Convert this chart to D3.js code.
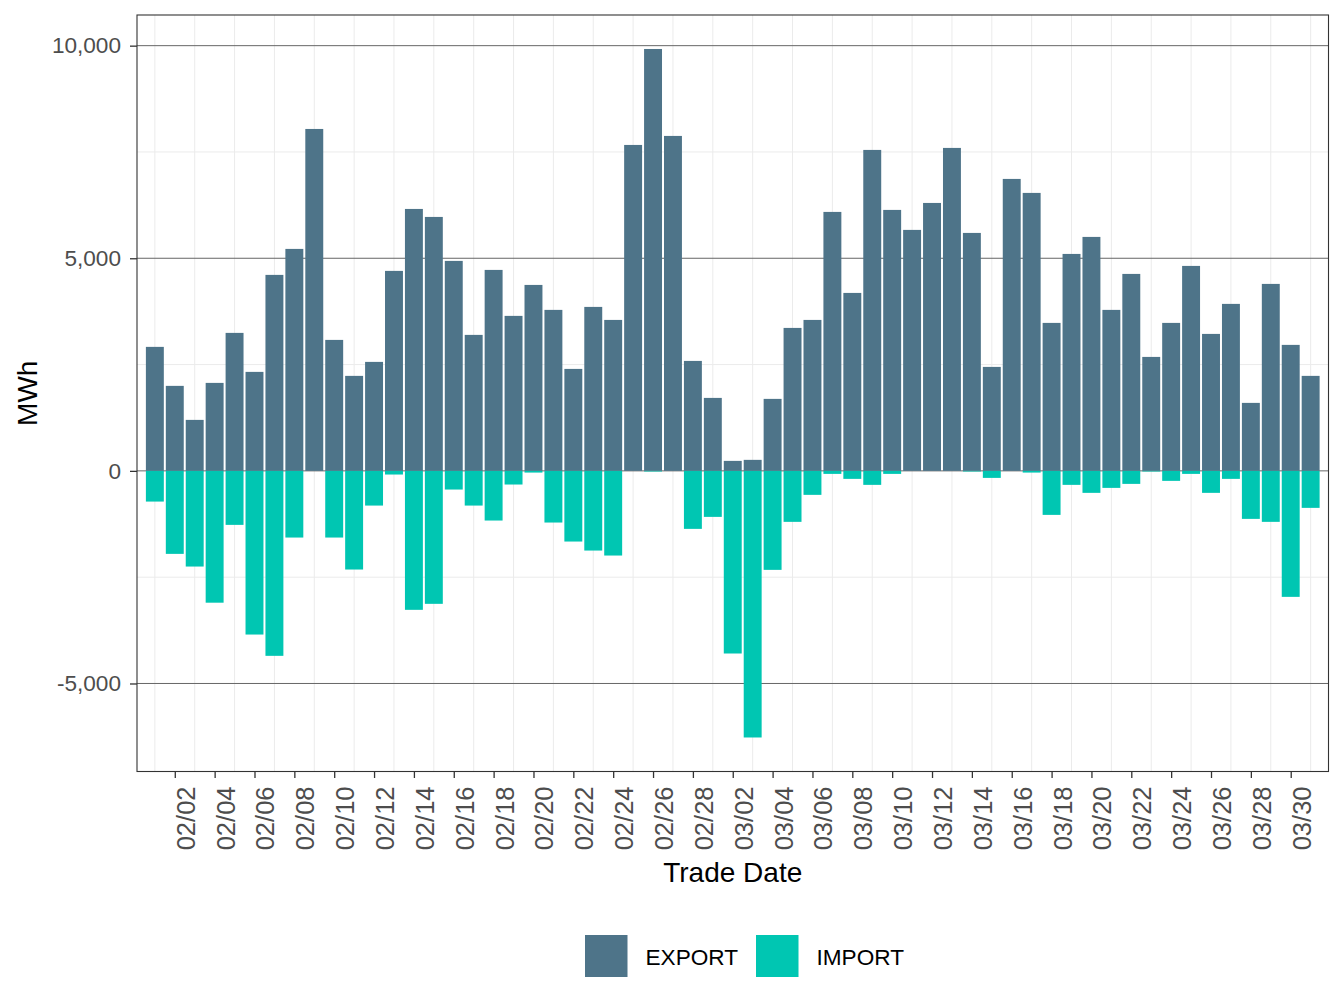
<!DOCTYPE html>
<html>
<head>
<meta charset="utf-8">
<script src="https://cdn.jsdelivr.net/npm/d3@7"></script>
<style>
  html, body { margin: 0; padding: 0; background: #ffffff; }
  svg { display: block; font-family: "Liberation Sans", Arial, Helvetica, sans-serif; }
</style>
</head>
<body>
<svg id="chart" width="1344" height="1008"></svg>
<script>
// ---- data ----
const dates = [
  "2023-02-01","2023-02-02","2023-02-03","2023-02-04","2023-02-05","2023-02-06","2023-02-07",
  "2023-02-08","2023-02-09","2023-02-10","2023-02-11","2023-02-12","2023-02-13","2023-02-14",
  "2023-02-15","2023-02-16","2023-02-17","2023-02-18","2023-02-19","2023-02-20","2023-02-21",
  "2023-02-22","2023-02-23","2023-02-24","2023-02-25","2023-02-26","2023-02-27","2023-02-28",
  "2023-03-01","2023-03-02","2023-03-03","2023-03-04","2023-03-05","2023-03-06","2023-03-07",
  "2023-03-08","2023-03-09","2023-03-10","2023-03-11","2023-03-12","2023-03-13","2023-03-14",
  "2023-03-15","2023-03-16","2023-03-17","2023-03-18","2023-03-19","2023-03-20","2023-03-21",
  "2023-03-22","2023-03-23","2023-03-24","2023-03-25","2023-03-26","2023-03-27","2023-03-28",
  "2023-03-29","2023-03-30","2023-03-31"
];
const exportMWh = [
  2916,1999,1199,2069,3245,2328,4609,5220,8041,3080,2234,2563,4703,6160,
  5972,4938,3198,4726,3645,4373,3786,2398,3856,3550,7665,9922,7877,2586,
  1716,235,259,1693,3362,3550,6090,4185,7548,6137,5667,6301,7595,5596,
  2445,6866,6537,3480,5102,5502,3786,4632,2680,3480,4820,3221,3927,1599,
  4397,2963,2234
];
const importMWh = [
  -722,-1952,-2250,-3100,-1270,-3849,-4350,-1568,0,-1568,-2320,-816,-86,-3268,
  -3127,-439,-816,-1168,-321,-40,-1215,-1662,-1874,-1991,0,-15,0,-1364,
  -1082,-4295,-6270,-2328,-1199,-564,-71,-188,-329,-71,0,0,0,-15,
  -165,0,-40,-1035,-329,-517,-400,-306,-15,-235,-71,-517,-188,-1129,
  -1199,-2963,-870
];
const seriesNames = ["EXPORT", "IMPORT"];
const seriesColors = ["#4e7489", "#00c6b2"];
const xTickDates = [
  "2023-02-02","2023-02-04","2023-02-06","2023-02-08","2023-02-10","2023-02-12","2023-02-14",
  "2023-02-16","2023-02-18","2023-02-20","2023-02-22","2023-02-24","2023-02-26","2023-02-28",
  "2023-03-02","2023-03-04","2023-03-06","2023-03-08","2023-03-10","2023-03-12","2023-03-14",
  "2023-03-16","2023-03-18","2023-03-20","2023-03-22","2023-03-24","2023-03-26","2023-03-28",
  "2023-03-30"
];
const xTickLabels = [
  "02/02","02/04","02/06","02/08","02/10","02/12","02/14","02/16","02/18","02/20","02/22",
  "02/24","02/26","02/28","03/02","03/04","03/06","03/08","03/10","03/12","03/14","03/16",
  "03/18","03/20","03/22","03/24","03/26","03/28","03/30"
];
const yMajorTicks = [-5000, 0, 5000, 10000];
const yMinorTicks = [-2500, 2500, 7500];
const yTickLabels = ["-5,000", "0", "5,000", "10,000"];

// ---- layout ----
const panel = { left: 137, right: 1328.5, top: 15, bottom: 771.5 };
const DAY = 86400000;
const parse = d3.utcParse("%Y-%m-%d");
const dateObjs = dates.map(parse);
const pad = 0.896 * DAY;

const x = d3.scaleUtc()
  .domain([new Date(+dateObjs[0] - pad), new Date(+dateObjs[dateObjs.length - 1] + pad)])
  .range([panel.left, panel.right]);
const y = d3.scaleLinear()
  .domain([-7070, 10721])
  .range([panel.bottom, panel.top]);

const pxPerDay = x(new Date(+dateObjs[0] + DAY)) - x(dateObjs[0]);
const barW = pxPerDay * 0.9;

const svg = d3.select("#chart");
svg.append("rect").attr("width", 1344).attr("height", 1008).attr("fill", "#ffffff");

const g = svg.append("g");

// minor vertical grid (odd days, between ticks)
const minorX = dateObjs.filter((d, i) => i % 2 === 0);
g.selectAll(".vgrid").data(minorX).enter().append("line")
  .attr("x1", d => x(d)).attr("x2", d => x(d))
  .attr("y1", panel.top).attr("y2", panel.bottom)
  .attr("stroke", "#ebebeb").attr("stroke-width", 1);

// minor horizontal grid
g.selectAll(".hminor").data(yMinorTicks).enter().append("line")
  .attr("x1", panel.left).attr("x2", panel.right)
  .attr("y1", d => y(d)).attr("y2", d => y(d))
  .attr("stroke", "#ebebeb").attr("stroke-width", 1);

// major horizontal grid
g.selectAll(".hmajor").data(yMajorTicks).enter().append("line")
  .attr("x1", panel.left).attr("x2", panel.right)
  .attr("y1", d => y(d)).attr("y2", d => y(d))
  .attr("stroke", "#666666").attr("stroke-width", 1);

// bars
const rows = dateObjs.map((d, i) => ({ d, exp: exportMWh[i], imp: importMWh[i] }));
g.selectAll(".exp").data(rows).enter().append("rect")
  .attr("x", r => x(r.d) - barW / 2).attr("width", barW)
  .attr("y", r => y(Math.max(0, r.exp)))
  .attr("height", r => Math.abs(y(r.exp) - y(0)))
  .attr("fill", seriesColors[0]);
g.selectAll(".imp").data(rows.filter(r => r.imp !== 0)).enter().append("rect")
  .attr("x", r => x(r.d) - barW / 2).attr("width", barW)
  .attr("y", y(0))
  .attr("height", r => Math.abs(y(r.imp) - y(0)))
  .attr("fill", seriesColors[1]);

// panel border
svg.append("rect")
  .attr("x", panel.left).attr("y", panel.top)
  .attr("width", panel.right - panel.left).attr("height", panel.bottom - panel.top)
  .attr("fill", "none").attr("stroke", "#333333").attr("stroke-width", 1.1);

// x axis
const xAxisG = svg.append("g").attr("transform", `translate(0,${panel.bottom})`);
const xAxis = d3.axisBottom(x)
  .tickValues(xTickDates.map(parse))
  .tickSize(6.5)
  .tickPadding(0)
  .tickFormat((d, i) => xTickLabels[i]);
xAxisG.call(xAxis);
xAxisG.select(".domain").remove();
xAxisG.selectAll(".tick line").attr("stroke", "#333333").attr("stroke-width", 1.3);
xAxisG.selectAll(".tick text")
  .attr("fill", "#4d4d4d")
  .style("font-size", "25.5px")
  .attr("text-anchor", "end")
  .attr("dy", null)
  .attr("y", null)
  .attr("transform", "translate(19.5,15) rotate(-90)")
  .attr("x", 0);

// y axis
const yAxisG = svg.append("g").attr("transform", `translate(${panel.left},0)`);
const yAxis = d3.axisLeft(y)
  .tickValues(yMajorTicks)
  .tickSize(7)
  .tickPadding(9)
  .tickFormat((d, i) => yTickLabels[i]);
yAxisG.call(yAxis);
yAxisG.select(".domain").remove();
yAxisG.selectAll(".tick line").attr("stroke", "#333333").attr("stroke-width", 1.3);
yAxisG.selectAll(".tick text")
  .attr("fill", "#4d4d4d")
  .style("font-size", "22.6px");

// axis titles
svg.append("text")
  .attr("x", (panel.left + panel.right) / 2).attr("y", 882)
  .attr("text-anchor", "middle")
  .attr("fill", "#000000")
  .style("font-size", "28px")
  .text("Trade Date");
svg.append("text")
  .attr("transform", `translate(37,${(panel.top + panel.bottom) / 2}) rotate(-90)`)
  .attr("text-anchor", "middle")
  .attr("fill", "#000000")
  .style("font-size", "28px")
  .text("MWh");

// legend
const legendX = [585, 756];
const legend = svg.append("g");
seriesNames.forEach((name, i) => {
  legend.append("rect")
    .attr("x", legendX[i]).attr("y", 935)
    .attr("width", 42.5).attr("height", 42)
    .attr("fill", seriesColors[i]);
  legend.append("text")
    .attr("x", legendX[i] + 60.5).attr("y", 964.5)
    .attr("fill", "#000000")
    .style("font-size", "22.6px")
    .text(name);
});
</script>
</body>
</html>
